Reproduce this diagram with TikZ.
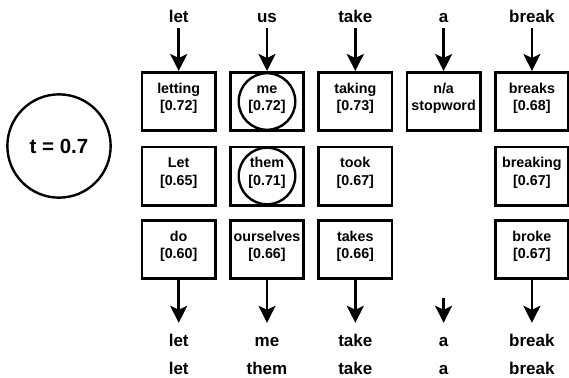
\documentclass[tikz,border=0pt]{standalone}
\usepackage{fontspec}
\setmainfont{Liberation Sans}
\usetikzlibrary{arrows.meta}
\newcommand\cellt[2]{\rule[-5.3pt]{0pt}{17.7pt}#1\\\rule[-11.3pt]{0pt}{23.7pt}#2}
\begin{document}
\begin{tikzpicture}[x=1pt,y=-1pt,
  cell/.style={draw, line width=2.6pt, minimum width=73.4pt, minimum height=58.4pt,
    inner sep=0pt, align=center, font=\fontsize{14.3}{17.7}\selectfont\bfseries},
  word/.style={inner sep=0pt, anchor=base, text height=12.4pt, text depth=0pt,
    font=\fontsize{17}{20}\selectfont\bfseries},
  ring/.style={draw, circle, line width=2.4pt, minimum size=56.6pt, inner sep=0pt},
  bigring/.style={draw, circle, line width=2.4pt, minimum size=103.3pt, inner sep=0pt,
    font=\fontsize{20.5}{24}\selectfont\bfseries},
  arr/.style={line width=2.6pt, -{Stealth[length=17pt,width=17pt,inset=4pt]}},
  inarr/.style={arr, shorten <=5.3pt},
  outarr/.style={arr, shorten >=10.6pt},
]
\fill[white] (0,0) rectangle (569,377);
\useasboundingbox (0,0) rectangle (569,377);

% threshold
\node[bigring] (thr) at (59,146) {t = 0.7};

% input words
\node[word] (w1) at (178.7,22.7) {let};
\node[word] (w2) at (267.0,22.7) {us};
\node[word] (w3) at (355.3,22.7) {take};
\node[word] (w4) at (443.6,22.7) {a};
\node[word] (w5) at (531.9,22.7) {break};

% row 1
\node[cell] (r1c1) at (178.7,101.5) {\cellt{letting}{[0.72]}};
\node[cell] (r1c2) at (267.0,101.5) {\cellt{me}{[0.72]}};
\node[cell] (r1c3) at (355.3,101.5) {\cellt{taking}{[0.73]}};
\node[cell] (r1c4) at (443.6,101.5) {\cellt{n/a}{stopword}};
\node[cell] (r1c5) at (531.9,101.5) {\cellt{breaks}{[0.68]}};
% row 2
\node[cell] (r2c1) at (178.7,176) {\cellt{Let}{[0.65]}};
\node[cell] (r2c2) at (267.0,176) {\cellt{them}{[0.71]}};
\node[cell] (r2c3) at (355.3,176) {\cellt{took}{[0.67]}};
\node[cell] (r2c5) at (531.9,176) {\cellt{breaking}{[0.67]}};
% row 3
\node[cell] (r3c1) at (178.7,249.5) {\cellt{do}{[0.60]}};
\node[cell] (r3c2) at (267.0,249.5) {\cellt{ourselves}{[0.66]}};
\node[cell] (r3c3) at (355.3,249.5) {\cellt{takes}{[0.66]}};
\node[cell] (r3c5) at (531.9,249.5) {\cellt{broke}{[0.67]}};

% selection rings
\node[ring] (s1) at (r1c2.center) {};
\node[ring] (s2) at (r2c2.center) {};

% output words
\node[word] (o1) at (178.7,346) {let};
\node[word] (o2) at (267.0,346) {me};
\node[word] (o3) at (355.3,346) {take};
\node[word] (o4) at (443.6,346) {a};
\node[word] (o5) at (531.9,346) {break};
\node[word] (q1) at (178.7,374) {let};
\node[word] (q2) at (267.0,374) {them};
\node[word] (q3) at (355.3,374) {take};
\node[word] (q4) at (443.6,374) {a};
\node[word] (q5) at (531.9,374) {break};

\coordinate (a4) at (443.6,298);

% connectors
\draw[inarr] (w1) -- (r1c1);
\draw[inarr] (w2) -- (r1c2);
\draw[inarr] (w3) -- (r1c3);
\draw[inarr] (w4) -- (r1c4);
\draw[inarr] (w5) -- (r1c5);
\draw[outarr] (r3c1) -- (o1);
\draw[outarr] (r3c2) -- (o2);
\draw[outarr] (r3c3) -- (o3);
\draw[outarr] (a4) -- (o4);
\draw[outarr] (r3c5) -- (o5);
\end{tikzpicture}
\end{document}
